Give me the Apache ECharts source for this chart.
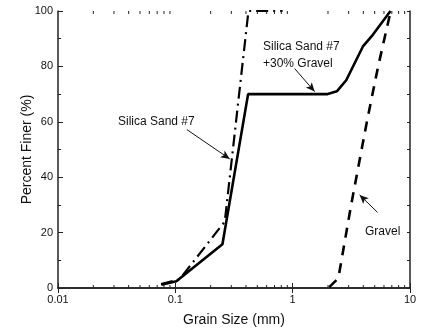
<!DOCTYPE html>
<html>
<head>
<meta charset="utf-8">
<script src="https://cdn.jsdelivr.net/npm/echarts@6/dist/echarts.min.js"></script>
<style>
  html, body { margin: 0; padding: 0; background: #fff; }
  #chart { width: 421px; height: 332px; }
</style>
</head>
<body>
<div id="chart"></div>
<script>
// grain size (mm) / percent finer (%)
const mixSize = [0.076, 0.102, 0.252, 0.417, 1.99, 2.38, 2.86, 3.97, 4.82, 6.82]
const mixFiner = [1.2, 2.4, 15.8, 70, 70, 71, 75, 87.2, 91.4, 100]

const sandSize = [0.0756, 0.109, 0.264, 0.42, 0.82]
const sandFiner = [1.4, 3.2, 24, 100, 100]

const gravelSize = [2.05, 2.45, 3.15, 4.29, 5.35, 6.85]
const gravelFiner = [0.3, 3.5, 30, 60, 80, 100]

// minor ticks on the log axis
const minorTicks = [0.02, 0.03, 0.04, 0.05, 0.06, 0.07, 0.08, 0.09,
  0.2, 0.3, 0.4, 0.5, 0.6, 0.7, 0.8, 0.9,
  2, 3, 4, 5, 6, 7, 8, 9]

// annotation arrows [from, to] in data units
const arrowSand = [[0.1253, 57.2], [0.291, 46.6]]
const arrowMix = [[1.04, 79.2], [1.54, 70.9]]
const arrowGravel = [[5.29, 27.3], [3.72, 33.6]]

const zip = (xs, ys) => xs.map((x, i) => [x, ys[i]])

const font = "'Liberation Sans', Arial, sans-serif"
const axisColor = '#222'

const chart = echarts.init(document.getElementById('chart'))

const option = {
  animation: false,
  grid: { left: 58, right: 11, top: 11, bottom: 37 },
  xAxis: [
    {
      type: 'log',
      logBase: 10,
      min: 0.01,
      max: 10,
      name: 'Grain Size (mm)',
      nameLocation: 'middle',
      nameMoveOverlap: false,
      nameGap: 25,
      nameTextStyle: { fontFamily: font, fontSize: 14, color: '#111' },
      axisLine: { lineStyle: { color: axisColor, width: 1.5 } },
      axisTick: { inside: true, length: 5, lineStyle: { color: axisColor } },
      axisLabel: { fontFamily: font, fontSize: 11, color: '#111', margin: 6 },
      splitLine: { show: false },
    },
    {
      type: 'log',
      logBase: 10,
      min: 0.01,
      max: 10,
      position: 'top',
      axisLine: { lineStyle: { color: axisColor, width: 1.5 } },
      axisTick: { inside: true, length: 5, lineStyle: { color: axisColor } },
      axisLabel: { show: false },
      splitLine: { show: false },
    },
  ],
  yAxis: [
    {
      type: 'value',
      min: 0,
      max: 100,
      interval: 20,
      name: 'Percent Finer (%)',
      nameLocation: 'middle',
      nameMoveOverlap: false,
      nameGap: 24,
      nameTextStyle: { fontFamily: font, fontSize: 14, color: '#111' },
      axisLine: { show: true, lineStyle: { color: axisColor, width: 1.5 } },
      axisTick: { show: true, inside: true, length: 5, lineStyle: { color: axisColor } },
      minorTick: { show: true, splitNumber: 2, length: 3, lineStyle: { color: axisColor } },
      axisLabel: { fontFamily: font, fontSize: 11, color: '#111', margin: 5 },
      splitLine: { show: false },
    },
    {
      type: 'value',
      min: 0,
      max: 100,
      interval: 10,
      position: 'right',
      axisLine: { show: true, lineStyle: { color: axisColor, width: 1.5 } },
      axisTick: { show: true, inside: true, length: 3, lineStyle: { color: axisColor } },
      axisLabel: { show: false },
      splitLine: { show: false },
    },
  ],
  series: [
    {
      name: 'minor ticks',
      type: 'custom',
      silent: true,
      data: minorTicks.map((v) => [v, 0]),
      renderItem: (params, api) => {
        const v = api.value(0)
        const bottom = api.coord([v, 0])
        const top = api.coord([v, 100])
        const style = { stroke: axisColor, lineWidth: 1 }
        return {
          type: 'group',
          children: [
            { type: 'line', shape: { x1: bottom[0], y1: bottom[1], x2: bottom[0], y2: bottom[1] - 3 }, style },
            { type: 'line', shape: { x1: top[0], y1: top[1], x2: top[0], y2: top[1] + 3 }, style },
          ],
        }
      },
      z: 5,
    },
    {
      name: 'Silica Sand #7 +30% Gravel',
      type: 'line',
      data: zip(mixSize, mixFiner),
      showSymbol: false,
      lineStyle: { color: '#000', width: 2.6, type: 'solid' },
    },
    {
      name: 'Silica Sand #7',
      type: 'line',
      data: zip(sandSize, sandFiner),
      showSymbol: false,
      lineStyle: { color: '#000', width: 2.2, type: [12, 5, 2, 5] },
    },
    {
      name: 'Gravel',
      type: 'line',
      data: zip(gravelSize, gravelFiner),
      showSymbol: false,
      lineStyle: { color: '#000', width: 2.6, type: [10, 8] },
    },
    {
      name: 'arrows',
      type: 'line',
      data: [],
      markLine: {
        silent: true,
        symbol: ['none', 'arrow'],
        symbolSize: [6, 9],
        label: { show: false },
        lineStyle: { color: '#111', width: 1, type: 'solid' },
        data: [arrowSand, arrowMix, arrowGravel].map((a) => [
          { coord: a[0] },
          { coord: a[1] },
        ]),
      },
    },
  ],
  graphic: [
    {
      type: 'text',
      left: 118,
      top: 116,
      style: { text: 'Silica Sand #7', font: '12px ' + font, fill: '#111' },
    },
    {
      type: 'text',
      left: 263,
      top: 38,
      style: { text: 'Silica Sand #7\n+30% Gravel', font: '12px ' + font, fill: '#111', lineHeight: 17 },
    },
    {
      type: 'text',
      left: 365,
      top: 226,
      style: { text: 'Gravel', font: '12px ' + font, fill: '#111' },
    },
  ],
}

chart.setOption(option)
</script>
</body>
</html>
